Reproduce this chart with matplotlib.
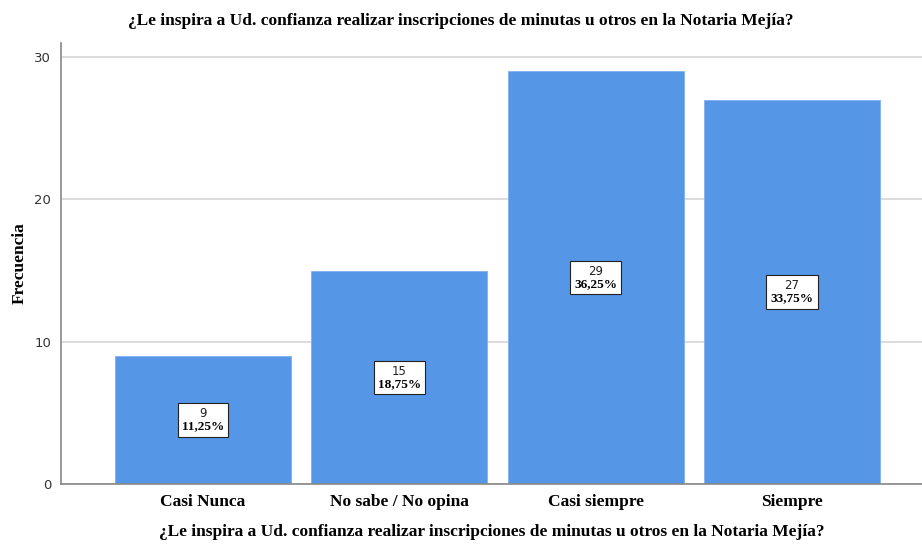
import matplotlib.pyplot as plt
from matplotlib.offsetbox import TextArea, VPacker, AnnotationBbox

# Frequencies per answer
categorias = ['Casi Nunca', 'No sabe / No opina', 'Casi siempre', 'Siempre']
frecuencias = [9, 15, 29, 27]
porcentajes = ['11,25%', '18,75%', '36,25%', '33,75%']

titulo = '¿Le inspira a Ud. confianza realizar inscripciones de minutas u otros en la Notaria Mejía?'

fig = plt.figure(figsize=(9.22, 5.44), dpi=100)
ax = fig.add_axes([0.0662, 0.1103, 0.9338, 0.8107])

x = list(range(len(categorias)))
ax.bar(x, frecuencias, width=0.897, color='#5596e6', edgecolor='#7fb0ee', linewidth=0.6, zorder=2)

ax.set_xlim(-0.723, 3.663)
ax.set_ylim(0, 31)
ax.set_yticks([0, 10, 20, 30])
ax.yaxis.grid(True, color='#d6d6d6', linewidth=1.2, zorder=0)
ax.set_xticks(x)
ax.set_xticklabels(categorias, family='Liberation Serif', fontweight='bold', fontsize=12.5)
ax.tick_params(axis='x', length=0, pad=7)
ax.tick_params(axis='y', length=0, pad=7, labelsize=9.5, labelcolor='#333333')

for s in ['top', 'right']:
    ax.spines[s].set_visible(False)
ax.spines['left'].set_color('#888888')
ax.spines['bottom'].set_color('#888888')
ax.spines['left'].set_linewidth(1.2)
ax.spines['bottom'].set_linewidth(1.2)

ax.set_ylabel('Frecuencia', family='Liberation Serif', fontweight='bold', fontsize=12.5, labelpad=5)
ax.set_xlabel(titulo, family='Liberation Serif', fontweight='bold', fontsize=12.5, labelpad=10)
fig.text(0.5, 0.962, titulo, ha='center', va='center', family='Liberation Serif',
         fontweight='bold', fontsize=12.5)

# value boxes in the middle of each bar
for i, (f, p) in enumerate(zip(frecuencias, porcentajes)):
    t1 = TextArea(str(f), textprops=dict(family='DejaVu Sans', fontsize=8.5, color='#222222'))
    t2 = TextArea(p, textprops=dict(family='Liberation Serif', fontweight='bold', fontsize=9.5))
    pack = VPacker(children=[t1, t2], align='center', pad=0, sep=0)
    ab = AnnotationBbox(pack, (i, f / 2), frameon=True, pad=0.2,
                        bboxprops=dict(boxstyle='square', facecolor='white',
                                       edgecolor='#222222', linewidth=0.8), zorder=3)
    ax.add_artist(ab)

fig.savefig('out.png', dpi=100)
